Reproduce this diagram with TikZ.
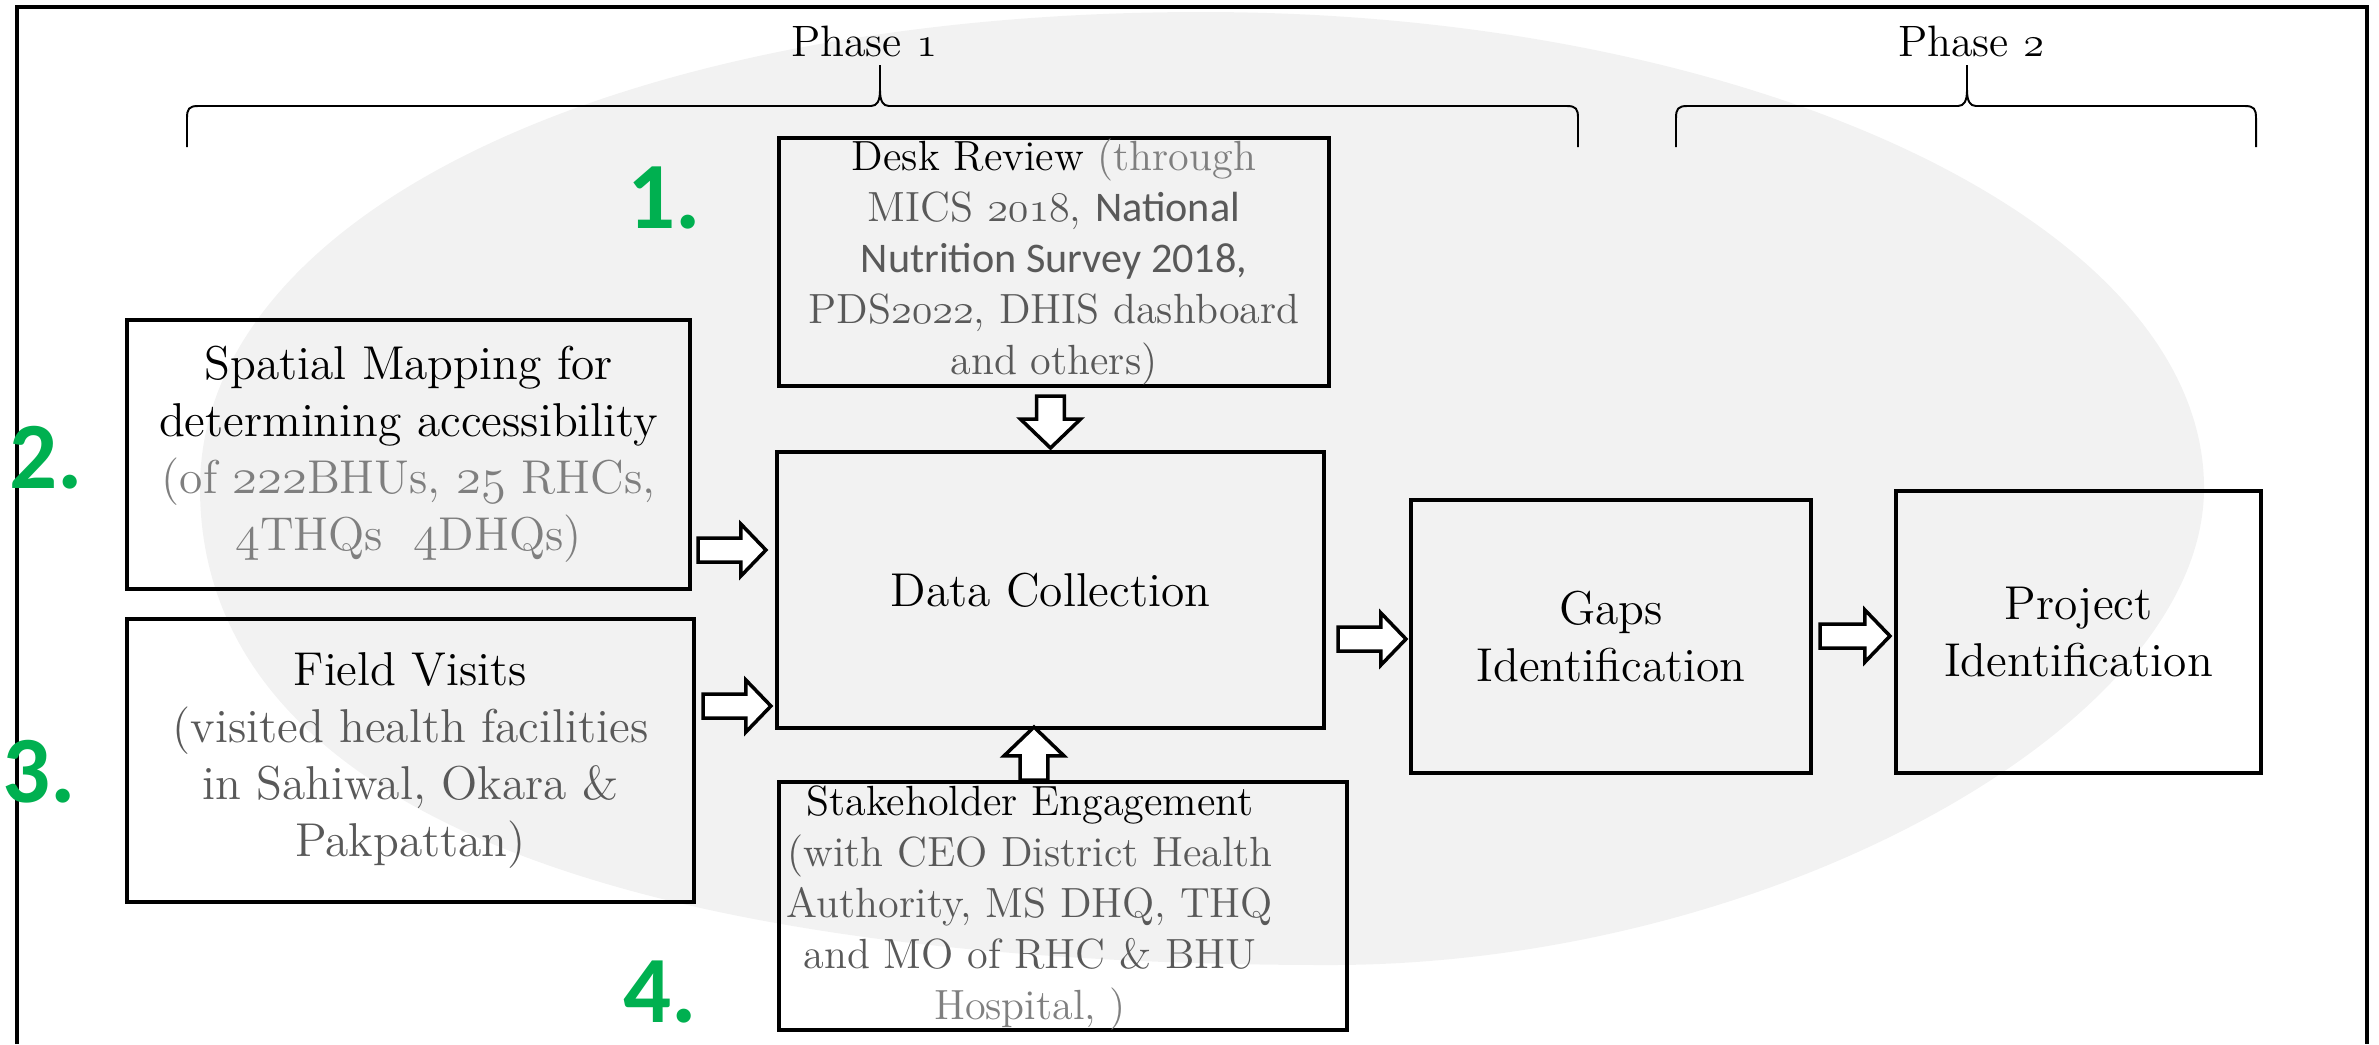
\documentclass[tikz,border=0pt]{standalone}
\usepackage{fontspec}
\newfontfamily\calibri{Carlito}
\usetikzlibrary{calc}
\definecolor{blobgray}{HTML}{F2F2F2}
\definecolor{notegray}{HTML}{7F7F7F}
\definecolor{subgray}{HTML}{595959}
\definecolor{stepgreen}{HTML}{00B050}
\newcommand{\osn}[1]{{\usefont{OML}{cmm}{m}{it}#1}}
\tikzset{
  blob/.style={fill=blobgray},
  box/.style={draw, line width=1.1pt, inner sep=0pt, align=center},
  smalltext/.style={font={\fontsize{12}{14.5}\selectfont}},
  phasetext/.style={font={\fontsize{12.5}{15}\selectfont}},
  stepnum/.style={inner sep=0pt, text=stepgreen, font={\fontsize{27}{30}\selectfont\calibri\bfseries}},
  hollow/.style={draw, fill=white, line width=1pt, line join=miter},
  bracestroke/.style={line width=0.55pt},
  frameline/.style={line width=1.2pt}
}
\newcommand{\fatarrow}[3][1]{%
  \path #2 coordinate (fa-s) #3 coordinate (fa-e);
  \path ($(fa-e)!#1*0.25cm!(fa-s)$) coordinate (fa-h);
  \draw[hollow] ($(fa-s)!#1*0.12cm!90:(fa-e)$) -- ($(fa-h)!#1*0.12cm!90:(fa-e)$)
    -- ($(fa-h)!#1*0.26cm!90:(fa-e)$) -- (fa-e)
    -- ($(fa-h)!#1*0.26cm!-90:(fa-e)$) -- ($(fa-h)!#1*0.12cm!-90:(fa-e)$)
    -- ($(fa-s)!#1*0.12cm!-90:(fa-e)$) -- cycle;
}
\newcommand{\phasebrace}[3]{%
  \draw[bracestroke] (#1,147) -- (#1,118) .. controls (#1,109) and ({#1+2},106) .. ({#1+11},106)
    -- ({#2-9},106) .. controls ({#2-3},106) and (#2,101) .. (#2,90) -- (#2,65);
  \draw[bracestroke] (#2,65) -- (#2,90) .. controls (#2,101) and ({#2+3},106) .. ({#2+9},106)
    -- ({#3-11},106) .. controls ({#3-2},106) and (#3,109) .. (#3,118) -- (#3,147);
}
\begin{document}
\begin{tikzpicture}[x=0.01cm,y=-0.01cm,font={\fontsize{13.5}{16.2}\selectfont}]
 \useasboundingbox (0,0) rectangle (2379,1044);
 \fill[blob] (1202,12) .. controls (1755,12) and (2204,225) .. (2204,488)
   .. controls (2204,726) and (1767,965) .. (1330,965)
   .. controls (596,965) and (200,798) .. (200,488)
   .. controls (200,212) and (621,12) .. (1202,12);
 \draw[frameline] (17,1044) -- (17,7) -- (2367,7) -- (2367,1044);
 \node[phasetext] (phase1) at (864,41) {Phase \osn{1}};
 \node[phasetext] (phase2) at (1971,41) {Phase \osn{2}};
 \phasebrace{187}{880}{1578}
 \phasebrace{1676}{1967}{2256}
 \node[box, smalltext, minimum width=5.5cm, minimum height=2.48cm] (desk) at (1054,262)
   {Desk Review {\color{notegray}(through}\\
    {\color{subgray}MICS \osn{2018}, {\calibri National}}\\
    {\color{subgray}\calibri Nutrition Survey 2018,}\\
    {\color{subgray}PDS\osn{2022}, DHIS dashboard}\\
    {\color{subgray}and others)}};
 \node[box, minimum width=5.63cm, minimum height=2.69cm] (spatial) at (408.5,454.5)
   {Spatial Mapping for\\ determining accessibility\\
    {\color{notegray}(of \osn{222}BHUs, \osn{25} RHCs,}\\
    {\color{notegray}\osn{4}THQs\ \ \osn{4}DHQs)}};
 \node[box, minimum width=5.67cm, minimum height=2.83cm] (field) at (410.5,760.5)
   {Field Visits\\ {\color{subgray}(visited health facilities}\\
    {\color{subgray}in Sahiwal, Okara \&}\\ {\color{subgray}Pakpattan)}};
 \node[box, minimum width=5.47cm, minimum height=2.76cm] (data) at (1050.5,590) {Data Collection};
 \node[box, minimum width=5.68cm, minimum height=2.48cm] (stake) at (1063,906) {};
 \node[smalltext, align=center, inner sep=0pt] (staketext) at (1030,908)
   {Stakeholder Engagement\\ {\color{subgray}(with CEO District Health}\\
    {\color{subgray}Authority, MS DHQ, THQ}\\ {\color{subgray}and MO of RHC \& BHU}\\
    {\color{notegray}Hospital, )}};
 \node[box, minimum width=4cm, minimum height=2.73cm] (gaps) at (1611,636.5) {Gaps\\Identification};
 \node[box, minimum width=3.65cm, minimum height=2.82cm] (project) at (2078.5,632) {Project\\Identification};
 \fatarrow[1.15]{($(desk.south -| data.north)+(0,8)$)}{($(data.north)+(0,-2)$)}
 \fatarrow[1.15]{($(stake.north)+(-29,0)$)}{($(data.south -| stake.north)+(-29,-3)$)}
 \fatarrow{($(spatial.east |- 0,550)+(6,0)$)}{($(data.west |- 0,550)+(-9,0)$)}
 \fatarrow{($(field.east |- 0,706)+(7,0)$)}{($(data.west |- 0,706)+(-4,0)$)}
 \fatarrow{($(data.east |- 0,639)+(12,0)$)}{($(gaps.west |- 0,639)+(-3,0)$)}
 \fatarrow{($(gaps.east |- 0,636)+(7,0)$)}{($(project.west |- 0,636)+(-4,0)$)}
 \node[stepnum] (num1) at (664,198) {1.};
 \node[stepnum] (num2) at (46,458) {2.};
 \node[stepnum] (num3) at (39,772) {3.};
 \node[stepnum] (num4) at (660,992) {4.};
\end{tikzpicture}
\end{document}
